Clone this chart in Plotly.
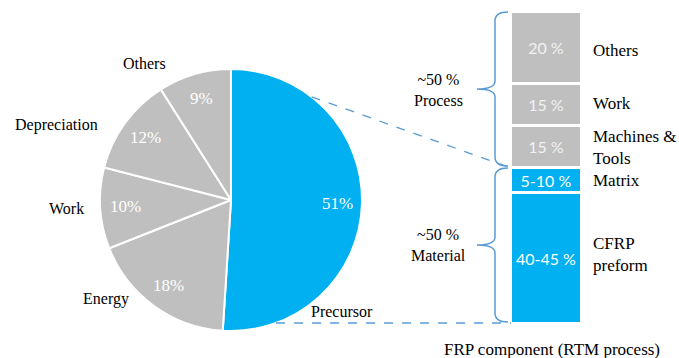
import math
import plotly.graph_objects as go

W, H = 679, 358

# ---------------- data ----------------
pie_labels = ["Precursor", "Energy", "Work", "Depreciation", "Others"]
pie_values = [51, 18, 10, 12, 9]
pie_colors = ["#00B0F0", "#BFBFBF", "#BFBFBF", "#BFBFBF", "#BFBFBF"]

bar_labels = ["CFRP<br>preform", "Matrix", "Machines &<br>Tools", "Work", "Others"]
bar_heights = [42, 8, 13.5, 13.5, 23]          # drawn segment sizes
bar_texts = ["40-45 %", "5-10 %", "15 %", "15 %", "20 %"]
bar_colors = ["#00B0F0", "#00B0F0", "#BFBFBF", "#BFBFBF", "#BFBFBF"]
bar_text_colors = ["white", "white", "#F2F2F2", "#F2F2F2", "#F2F2F2"]

group_texts = ["~50 %<br>Process", "~50 %<br>Material"]
bar_title = "FRP component (RTM process)"

SERIF = "Liberation Serif"
SANS = "Lato"
BRACE = "#5B9BD5"


def px(x):
    return x / W


def py(y):
    return 1 - y / H


# pie geometry (pixels)
cx, cy, r = 231, 200, 131
# bar geometry (pixels)
bx0, bx1, by0, by1 = 511, 582, 12, 324

fig = go.Figure()

fig.add_trace(go.Pie(
    labels=pie_labels, values=pie_values, sort=False, direction="clockwise",
    rotation=0, marker=dict(colors=pie_colors, line=dict(color="white", width=2)),
    textinfo="none", hoverinfo="label+percent", showlegend=False,
    domain=dict(x=[px(cx - r), px(cx + r)], y=[py(cy + r), py(cy - r)]),
))

for lab, h, t, c, tc in zip(bar_labels, bar_heights, bar_texts, bar_colors, bar_text_colors):
    fig.add_trace(go.Bar(
        x=[0], y=[h], width=1, marker=dict(color=c, line=dict(color="white", width=3)),
        text=[t], textposition="inside", insidetextanchor="middle", textangle=0,
        constraintext="none", textfont=dict(family=SANS, size=16, color=tc),
        showlegend=False, name=lab.replace("<br>", " "),
    ))

fig.update_layout(
    width=W, height=H, margin=dict(l=0, r=0, t=0, b=0),
    paper_bgcolor="white", plot_bgcolor="white", barmode="stack", bargap=0,
    xaxis=dict(domain=[px(bx0), px(bx1)], range=[-0.5, 0.5], visible=False),
    yaxis=dict(domain=[py(by1), py(by0)], range=[0, sum(bar_heights)], visible=False),
)


def ann(x, y, text, font, xanchor="center", align="center"):
    return dict(x=px(x), y=py(y), xref="paper", yref="paper", text=text,
                showarrow=False, xanchor=xanchor, yanchor="middle", align=align,
                font=font)


annotations = []
# pie percentage labels, placed from data angles
cum = 0
for v in pie_values:
    mid = (cum + v / 2) / sum(pie_values) * 2 * math.pi
    cum += v
    rr = 0.81 * r
    annotations.append(ann(cx + rr * math.sin(mid), cy - rr * math.cos(mid), f"{v}%",
                           dict(family=SERIF, size=17, color="white")))

# pie category labels
pie_label_pos = {"Others": (144, 63), "Depreciation": (57, 125), "Work": (66, 208),
                 "Energy": (106, 299), "Precursor": (342, 311)}
for lab in pie_labels:
    x, y = pie_label_pos[lab]
    annotations.append(ann(x, y, lab, dict(family=SERIF, size=16, color="black")))

# bar category labels (left aligned, beside each segment)
bar_label_y = [254, 180, 147, 103, 50]
for lab, y in zip(bar_labels, bar_label_y):
    annotations.append(ann(591, y, lab, dict(family=SERIF, size=17, color="black"),
                           xanchor="left", align="left"))

# group labels
for t, y in zip(group_texts, [90, 245]):
    annotations.append(ann(438, y, t, dict(family=SERIF, size=16, color="black")))

annotations.append(ann(552, 349, bar_title, dict(family=SERIF, size=17, color="black")))
fig.update_layout(annotations=annotations)


def P(x, y):
    return f"{px(x):.5f},{py(y):.5f}"


def brace(y0, y1, xv=495, xt=508, xl=477):
    ym = (y0 + y1) / 2
    return (f"M {P(xt, y0)} Q {P(xv, y0)} {P(xv, y0 + 9)} L {P(xv, ym - 8)} "
            f"Q {P(xv, ym)} {P(xl, ym)} Q {P(xv, ym)} {P(xv, ym + 8)} "
            f"L {P(xv, y1 - 9)} Q {P(xv, y1)} {P(xt, y1)}")


shapes = [
    dict(type="path", xref="paper", yref="paper", path=brace(12, 166),
         line=dict(color=BRACE, width=1.5)),
    dict(type="path", xref="paper", yref="paper", path=brace(168, 322),
         line=dict(color=BRACE, width=1.5)),
]
# dashed connector lines from the precursor slice to the material part of the bar
a1 = math.radians(38)
sx, sy = cx + r * math.sin(a1), cy - r * math.cos(a1)
shapes.append(dict(type="line", xref="paper", yref="paper", x0=px(sx), y0=py(sy),
                   x1=px(bx0), y1=py(168), line=dict(color=BRACE, width=1.3, dash="dash")))
yb = 323
xb = cx + math.sqrt(r * r - (yb - cy) ** 2)
shapes.append(dict(type="line", xref="paper", yref="paper", x0=px(xb), y0=py(yb),
                   x1=px(bx0), y1=py(yb), line=dict(color=BRACE, width=1.3, dash="dash")))
fig.update_layout(shapes=shapes)

fig.write_html("out.html")
